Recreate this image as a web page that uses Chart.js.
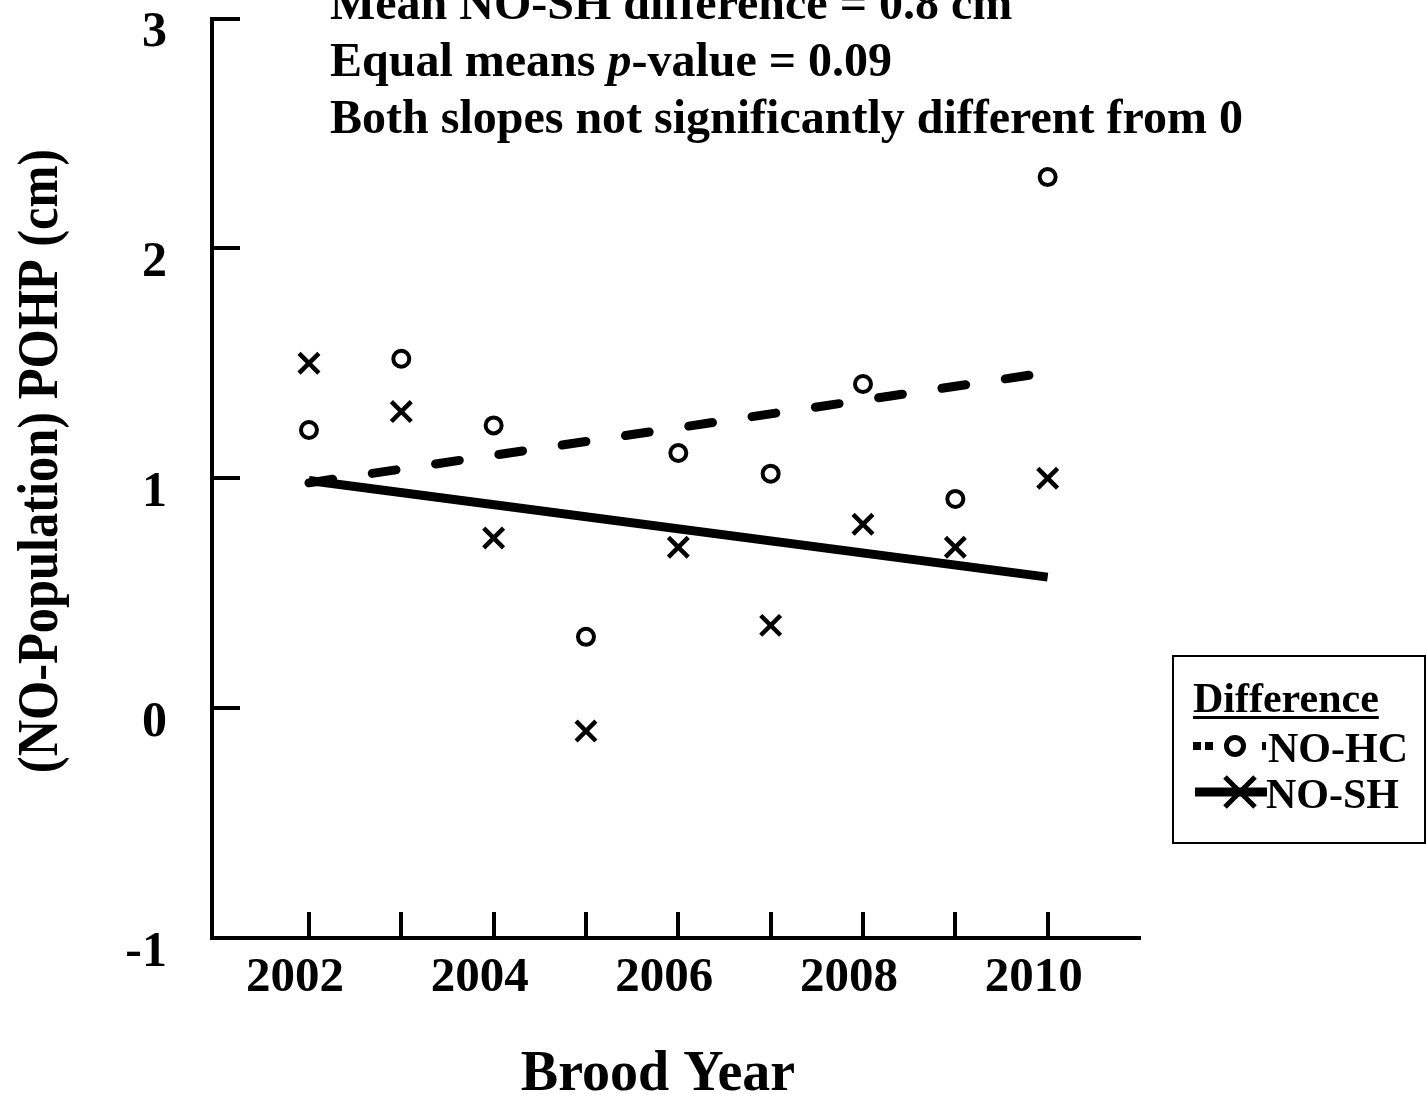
<!DOCTYPE html>
<html>
<head>
<meta charset="utf-8">
<title>Brood Year differences</title>
<script src="https://cdn.jsdelivr.net/npm/chart.js@4/dist/chart.umd.min.js"></script>
<style>
  html, body { margin: 0; padding: 0; background: #ffffff; }
  #wrap { width: 1426px; height: 1094px; position: relative; }
</style>
</head>
<body>
<div id="wrap"><canvas id="chart" width="1426" height="1094"></canvas></div>
<script>
// Observed differences by brood year (cm)
const broodYears = [2002, 2003, 2004, 2005, 2006, 2007, 2008, 2009, 2010];
const diffNOHC = [1.21, 1.52, 1.23, 0.31, 1.11, 1.02, 1.41, 0.91, 2.31];
const diffNOSH = [1.50, 1.29, 0.74, -0.10, 0.70, 0.36, 0.80, 0.70, 1.00];

// Fitted regression lines (end points)
const fitYears = [2002, 2010];
const fitNOHC = [0.98, 1.46];
const fitNOSH = [0.99, 0.57];

// Axis ticks
const xTickYears = [2002, 2003, 2004, 2005, 2006, 2007, 2008, 2009, 2010];
const xLabelYears = [2002, 2004, 2006, 2008, 2010];
const yTickValues = [0, 1, 2, 3];

// Text
const seriesNames = ['NO-HC', 'NO-SH'];
const legendTitle = 'Difference';
const xTitle = 'Brood Year';
const yTitle = '(NO-Population) POHP (cm)';
const noteLines = [
  [{ t: 'Mean NO-SH difference = 0.8 cm' }],
  [{ t: 'Equal means ' }, { t: 'p', italic: true }, { t: '-value = 0.09' }],
  [{ t: 'Both slopes not significantly different from 0' }]
];

const SERIF = '"Liberation Serif", "Times New Roman", Times, serif';

const toPoints = (xs, ys) => xs.map((x, i) => ({ x: x, y: ys[i] }));

// keep the plot box fixed: no extra room for half-labels at the axis ends
const fixScaleBox = (s, size) => {
  if (s.isHorizontal()) s.height = size; else s.width = size;
  s.paddingTop = 0; s.paddingBottom = 0; s.paddingLeft = 0; s.paddingRight = 0;
};

const decorations = {
  id: 'decorations',
  afterDraw(chart) {
    const ctx = chart.ctx;
    const xs = chart.scales.x;
    const ys = chart.scales.y;
    const area = chart.chartArea;
    ctx.save();
    ctx.strokeStyle = '#000';
    ctx.fillStyle = '#000';

    // inward tick marks
    ctx.lineWidth = 4;
    ctx.lineCap = 'butt';
    xTickYears.forEach(v => {
      const px = Math.round(xs.getPixelForValue(v));
      ctx.beginPath();
      ctx.moveTo(px, area.bottom);
      ctx.lineTo(px, area.bottom - 26);
      ctx.stroke();
    });
    yTickValues.forEach(v => {
      const py = Math.round(ys.getPixelForValue(v));
      ctx.beginPath();
      ctx.moveTo(area.left, py);
      ctx.lineTo(area.left + 28, py);
      ctx.stroke();
    });

    // notes at top
    ctx.textBaseline = 'alphabetic';
    ctx.textAlign = 'left';
    noteLines.forEach((line, i) => {
      let x = 330;
      const y = 19 + i * 57;
      line.forEach(seg => {
        ctx.font = (seg.italic ? 'italic ' : '') + 'bold 48px ' + SERIF;
        ctx.fillText(seg.t, x, y);
        x += ctx.measureText(seg.t).width;
      });
    });

    // x title
    ctx.font = 'bold 56px ' + SERIF;
    ctx.textAlign = 'center';
    ctx.fillText(xTitle, 658, 1090);

    // y title
    ctx.save();
    ctx.translate(57, 461);
    ctx.rotate(-Math.PI / 2);
    ctx.scale(0.9, 1);
    ctx.font = 'bold 56px ' + SERIF;
    ctx.textAlign = 'center';
    ctx.fillText(yTitle, 0, 0);
    ctx.restore();

    // legend box
    ctx.lineWidth = 2;
    ctx.strokeRect(1173, 656, 252, 187);
    ctx.textAlign = 'left';
    ctx.font = 'bold 42px ' + SERIF;
    ctx.fillText(legendTitle, 1193, 712);
    const tw = ctx.measureText(legendTitle).width;
    ctx.fillRect(1193, 716, tw, 3);

    // NO-HC sample: dotted line with open circle
    ctx.fillRect(1193, 742, 8, 8);
    ctx.fillRect(1205, 742, 8, 8);
    ctx.fillRect(1262, 742, 4, 8);
    ctx.lineWidth = 5;
    ctx.beginPath();
    ctx.arc(1235, 746, 8.5, 0, Math.PI * 2);
    ctx.stroke();
    ctx.fillText(seriesNames[0], 1268, 762);

    // NO-SH sample: solid line with cross
    ctx.lineWidth = 9;
    ctx.beginPath();
    ctx.moveTo(1195, 792);
    ctx.lineTo(1267, 792);
    ctx.stroke();
    ctx.lineWidth = 5;
    ctx.beginPath();
    ctx.moveTo(1225, 777); ctx.lineTo(1255, 807);
    ctx.moveTo(1255, 777); ctx.lineTo(1225, 807);
    ctx.stroke();
    ctx.fillText(seriesNames[1], 1266, 808);

    ctx.restore();
  }
};

new Chart(document.getElementById('chart'), {
  type: 'scatter',
  data: {
    datasets: [
      {
        label: seriesNames[0],
        data: toPoints(broodYears, diffNOHC),
        showLine: false,
        pointStyle: 'circle',
        pointRadius: 8,
        pointBorderWidth: 4,
        borderColor: '#000',
        backgroundColor: 'rgba(0,0,0,0)'
      },
      {
        label: seriesNames[1],
        data: toPoints(broodYears, diffNOSH),
        showLine: false,
        pointStyle: 'crossRot',
        pointRadius: 14,
        pointBorderWidth: 4.5,
        borderColor: '#000',
        backgroundColor: '#000'
      },
      {
        label: seriesNames[0] + ' fit',
        data: toPoints(fitYears, fitNOHC),
        showLine: true,
        pointRadius: 0,
        borderColor: '#000',
        borderWidth: 9,
        borderDash: [24, 40],
        borderCapStyle: 'round',
        fill: false
      },
      {
        label: seriesNames[1] + ' fit',
        data: toPoints(fitYears, fitNOSH),
        showLine: true,
        pointRadius: 0,
        borderColor: '#000',
        borderWidth: 9,
        borderCapStyle: 'butt',
        fill: false
      }
    ]
  },
  options: {
    responsive: false,
    animation: false,
    devicePixelRatio: 1,
    layout: { padding: { top: 16, right: 286, left: 0, bottom: 0 } },
    plugins: {
      legend: { display: false },
      tooltip: { enabled: false }
    },
    scales: {
      x: {
        type: 'linear',
        min: 2000.95,
        max: 2011,
        afterFit: s => fixScaleBox(s, 156),
        afterBuildTicks: s => { s.ticks = xLabelYears.map(v => ({ value: v })); },
        ticks: {
          autoSkip: false,
          maxRotation: 0,
          color: '#000',
          padding: 11,
          labelOffset: -14,
          font: { family: SERIF, weight: 'bold', size: 49 },
          callback: v => String(v)
        },
        grid: { display: false, drawTicks: false },
        border: { display: true, color: '#000', width: 4 }
      },
      y: {
        type: 'linear',
        min: -1,
        max: 3,
        afterFit: s => fixScaleBox(s, 212),
        ticks: {
          stepSize: 1,
          color: '#000',
          padding: 45,
          labelOffset: 15,
          font: { family: SERIF, weight: 'bold', size: 50 }
        },
        grid: { display: false, drawTicks: false },
        border: { display: true, color: '#000', width: 4 }
      }
    }
  },
  plugins: [decorations]
});
</script>
</body>
</html>
